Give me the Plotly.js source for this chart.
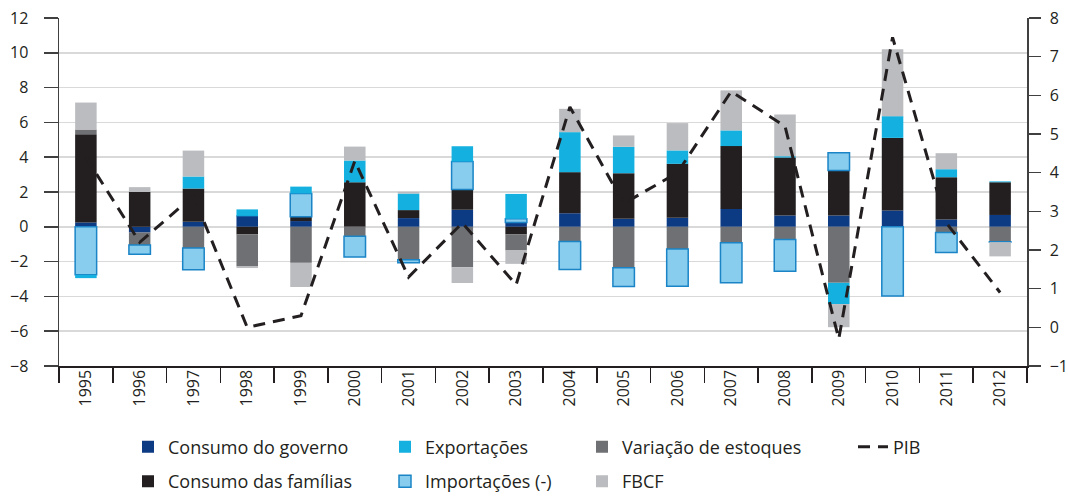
<!DOCTYPE html>
<html>
<head>
<meta charset="utf-8">
<script src="https://cdn.plot.ly/plotly-3.0.1.min.js"></script>
<style>
html,body{margin:0;padding:0;background:#fff;}
#chart{width:1068px;height:497px;}
</style>
</head>
<body>
<div id="chart"></div>
<script>
const years = ['1995','1996','1997','1998','1999','2000','2001','2002','2003','2004','2005','2006','2007','2008','2009','2010','2011','2012'];
const governo     = [0.25, -0.33, 0.29, 0.63, 0.33, 0.00, 0.50, 0.98, 0.25, 0.78, 0.46, 0.52, 1.03, 0.65, 0.65, 0.94, 0.42, 0.68];
const familias    = [5.07, 2.00, 1.91, -0.44, 0.25, 2.56, 0.46, 1.16, -0.44, 2.36, 2.62, 3.10, 3.61, 3.33, 2.59, 4.17, 2.43, 1.88];
const variacao    = [0.27, -0.72, -1.22, -1.84, -2.07, -0.55, -1.90, -2.33, -0.92, -0.84, -2.36, -1.28, -0.92, -0.73, -3.22, 0.00, -0.33, -0.86];
const importacoes = [-2.76, -0.53, -1.25, 0.00, 1.34, -1.19, -0.17, 1.61, 0.21, -1.61, -1.07, -2.13, -2.30, -1.82, 1.01, -3.98, -1.15, -0.02];
const exportacoes = [-0.19, 0.00, 0.69, 0.37, 0.39, 1.25, 0.95, 0.88, 1.43, 2.30, 1.52, 0.77, 0.90, 0.08, -1.22, 1.25, 0.46, 0.05];
const fbcf        = [1.55, 0.28, 1.49, -0.09, -1.39, 0.80, 0.10, -0.90, -0.77, 1.34, 0.65, 1.57, 2.30, 2.40, -1.33, 3.85, 0.92, -0.82];
const pib         = [4.4, 2.2, 3.4, 0.0, 0.3, 4.3, 1.3, 2.7, 1.1, 5.7, 3.2, 4.0, 6.1, 5.2, -0.3, 7.5, 2.7, 0.9];

const BW = 0.4;
function bar(name, y, color, legend, rank, line) {
  return {
    type: 'bar', name: name, x: years, y: y, width: BW,
    marker: {color: color, line: line || {width: 0}},
    legend: legend, legendrank: rank, legendgroup: name
  };
}
const traces = [
  bar('Consumo do governo', governo, '#0c3a83', 'legend', 1),
  bar('Consumo das famílias', familias, '#231f20', 'legend', 2),
  bar('Variação de estoques', variacao, '#6f7073', 'legend3', 1),
  bar('Importações (-)', importacoes, '#88cdee', 'legend2', 2, {color: '#1a84c6', width: 1.5}),
  bar('Exportações', exportacoes, '#14b1e0', 'legend2', 1),
  bar('FBCF', fbcf, '#bbbcbf', 'legend3', 2),
  {
    type: 'scatter', mode: 'lines', name: 'PIB', x: years, y: pib, yaxis: 'y2',
    line: {color: '#231f20', width: 3, dash: '12px,8px'},
    legend: 'legend4', legendgroup: 'PIB'
  }
];

const legFont = {family: 'Open Sans, sans-serif', size: 18, color: '#231f20'};
function leg(xp) {
  return {x: xp, y: -0.18, xanchor: 'left', yanchor: 'top', orientation: 'v',
    font: legFont, bgcolor: 'rgba(0,0,0,0)', traceorder: 'grouped', tracegroupgap: 8,
    itemwidth: 30};
}
const tickFont = {family: 'Open Sans, sans-serif', size: 16, color: '#231f20'};
const layout = {
  width: 1068, height: 497,
  margin: {l: 59, r: 41, t: 18, b: 131, pad: 0, autoexpand: false},
  paper_bgcolor: '#ffffff', plot_bgcolor: '#ffffff',
  barmode: 'relative',
  showlegend: true,
  legend: leg((128 - 59) / 968),
  legend2: leg((385 - 59) / 968),
  legend3: leg((582 - 59) / 968),
  legend4: leg((853 - 59) / 968),
  xaxis: {
    type: 'category', tickangle: -90, tickfont: tickFont,
    showline: true, linecolor: '#231f20', linewidth: 1.5,
    ticks: 'outside', ticklen: 15, tickcolor: '#231f20', tickwidth: 1.5,
    tickson: 'boundaries', showgrid: false, range: [-0.5, 17.5],
    ticklabelstandoff: -4, automargin: false
  },
  yaxis: {
    range: [-8, 12], dtick: 2, tick0: 0, tickfont: tickFont,
    showline: true, linecolor: '#404040', linewidth: 1.5,
    ticks: 'outside', ticklen: 14, tickcolor: '#404040', tickwidth: 1.5,
    showgrid: true, gridcolor: '#d9d9d9', gridwidth: 1.5,
    zeroline: false, ticklabelstandoff: 12, automargin: false
  },
  yaxis2: {
    overlaying: 'y', side: 'right', range: [-1, 8], dtick: 1, tick0: 0,
    tickfont: tickFont,
    showline: true, linecolor: '#404040', linewidth: 1.5,
    ticks: 'outside', ticklen: 12, tickcolor: '#404040', tickwidth: 1.5,
    showgrid: false, zeroline: false, ticklabelstandoff: 6, automargin: false
  }
};
Plotly.newPlot('chart', traces, layout, {displayModeBar: false, staticPlot: true});
</script>
</body>
</html>
